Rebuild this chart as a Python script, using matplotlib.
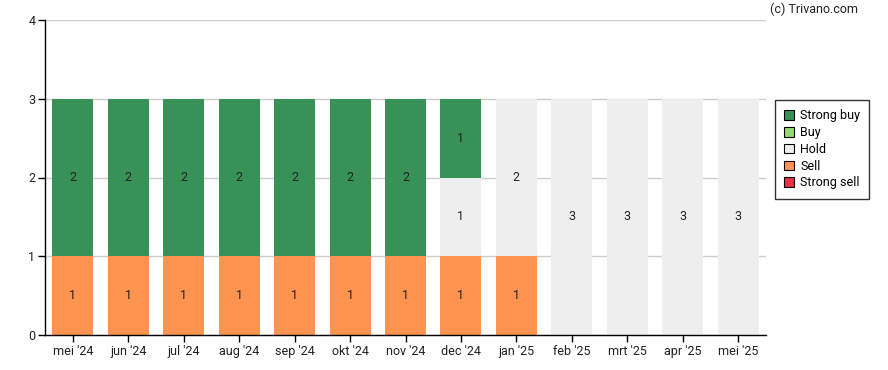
import matplotlib
matplotlib.use("Agg")
import matplotlib.pyplot as plt
import numpy as np
from matplotlib.patches import Patch

plt.rcParams['font.family'] = ['Roboto', 'DejaVu Sans']

months = ["mei '24", "jun '24", "jul '24", "aug '24", "sep '24", "okt '24", "nov '24",
          "dec '24", "jan '25", "feb '25", "mrt '25", "apr '25", "mei '25"]
strong_buy = [2, 2, 2, 2, 2, 2, 2, 1, 0, 0, 0, 0, 0]
buy = [0] * 13
hold = [0, 0, 0, 0, 0, 0, 0, 1, 2, 3, 3, 3, 3]
sell = [1, 1, 1, 1, 1, 1, 1, 1, 1, 0, 0, 0, 0]
strong_sell = [0] * 13

series = [("Strong sell", strong_sell, "#e8323f"),
          ("Sell", sell, "#ff9350"),
          ("Hold", hold, "#eeeeee"),
          ("Buy", buy, "#98d872"),
          ("Strong buy", strong_buy, "#389257")]

fig = plt.figure(figsize=(8.88, 3.70), dpi=100)
ax = fig.add_axes([45/888, 1-335/370, 721/888, 315/370])

x = np.arange(len(months))
bottom = np.zeros(len(months))
for name, vals, col in series:
    v = np.array(vals, dtype=float)
    ax.bar(x, v, bottom=bottom, width=0.74, color=col, zorder=2)
    for xi, vi, bi in zip(x, v, bottom):
        if vi > 0:
            ax.text(xi, bi + vi/2, str(int(vi)), ha='center', va='center',
                    fontsize=9, color='#222222', zorder=3)
    bottom += v

ax.set_xlim(-0.5, len(months) - 0.5)
ax.set_ylim(0, 4)
ax.set_yticks([0, 1, 2, 3, 4])
ax.set_xticks(x)
ax.set_xticklabels(months)
ax.yaxis.grid(True, color='#cccccc', linewidth=1, zorder=0)
ax.set_axisbelow(True)
for s in ['top', 'right']:
    ax.spines[s].set_visible(False)
for s in ['left', 'bottom']:
    ax.spines[s].set_color('black')
    ax.spines[s].set_linewidth(1)
ax.tick_params(axis='both', length=5, width=1, color='black', labelsize=9, labelcolor='#222222')
ax.tick_params(axis='x', pad=2)
ax.tick_params(axis='y', pad=2)

handles = [Patch(facecolor=c, edgecolor='black', linewidth=0.8, label=n)
           for n, _, c in reversed(series)]
leg = fig.legend(handles=handles, loc='upper left', bbox_to_anchor=(775/888, 1-100/370),
                 frameon=True, fancybox=False, edgecolor='black', fontsize=9,
                 handlelength=0.8, handleheight=0.8, handletextpad=0.45,
                 labelspacing=0.3, borderpad=0.75, borderaxespad=0)
leg.get_frame().set_linewidth(1)

fig.text(858/888, 1-9/370, "(c) Trivano.com", ha='right', va='center', fontsize=9, color='#222222')

fig.savefig("out.png", dpi=100)
